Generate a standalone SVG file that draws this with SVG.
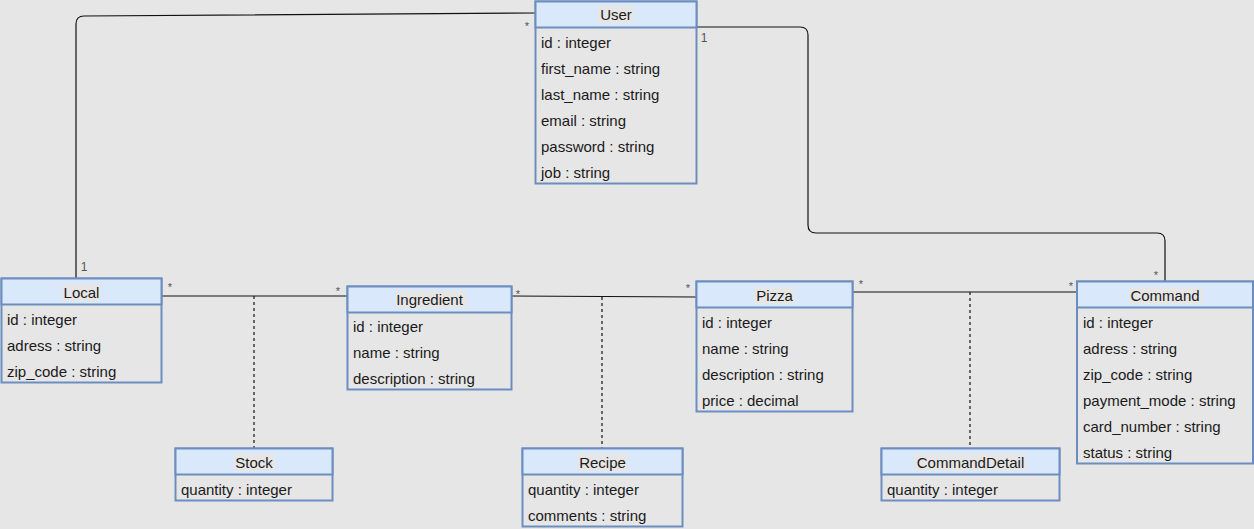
<svg xmlns="http://www.w3.org/2000/svg" width="1254" height="529" viewBox="0 0 1254 529">
<style>
.bg{fill:#e6e6e6}
.box{fill:none;stroke:#6c8ebf;stroke-width:2}
.hd{fill:#dae8fc;stroke:#6c8ebf;stroke-width:2}
.lb{fill:#e6e6e6}
.t{font-family:"Liberation Sans",Arial,sans-serif;font-size:15px;fill:#1a1a1a}
.c{text-anchor:middle}
.m{font-family:"Liberation Sans",Arial,sans-serif;font-size:11px;fill:#555;text-anchor:middle}
.ln{fill:none;stroke:#111;stroke-width:1.2}
.ds{fill:none;stroke:#111;stroke-width:1.2;stroke-dasharray:3 3}
</style>
<rect class="bg" x="0" y="0" width="1254" height="529"/>
<g id="connectors">
<path class="ln" d="M535,13 L84,16 Q76,16 76,24 L76,278"/>
<path class="ln" d="M696,27 L800,27 Q808,27 808,35 L808,225 Q808,233 816,233 L1157,233 Q1165,233 1165,241 L1165,281"/>
<path class="ln" d="M162,296 L347,296"/>
<path class="ln" d="M511,296 L696,297"/>
<path class="ln" d="M853,292 L1077,292"/>
<path class="ds" d="M254,296 V448"/>
<path class="ds" d="M602,297 V448"/>
<path class="ds" d="M970,292 V448"/>
<text class="m" x="527" y="30">*</text>
<text class="m" x="704" y="42" style="font-size:12px">1</text>
<text class="m" x="84" y="271" style="font-size:12px">1</text>
<text class="m" x="170" y="291">*</text>
<text class="m" x="338" y="295">*</text>
<text class="m" x="518" y="298">*</text>
<text class="m" x="688" y="292">*</text>
<text class="m" x="861" y="288">*</text>
<text class="m" x="1071" y="290">*</text>
<text class="m" x="1156" y="279">*</text>
</g>
<g id="user">
<rect class="box" x="535.5" y="1.5" width="161" height="182"/>
<rect class="hd" x="535.5" y="1.5" width="161" height="26"/>
<rect class="lb" x="598" y="6" width="36" height="17"/>
<text class="t c" x="616" y="20">User</text>
<text class="t" x="541" y="48">id : integer</text>
<text class="t" x="541" y="74">first_name : string</text>
<text class="t" x="541" y="100">last_name : string</text>
<text class="t" x="541" y="126">email : string</text>
<text class="t" x="541" y="152">password : string</text>
<text class="t" x="541" y="178">job : string</text>
</g>
<g id="local">
<rect class="box" x="1.5" y="278.5" width="160" height="104"/>
<rect class="hd" x="1.5" y="278.5" width="160" height="26"/>
<rect class="lb" x="62" y="284" width="39" height="17"/>
<text class="t c" x="81.5" y="298">Local</text>
<text class="t" x="7" y="325">id : integer</text>
<text class="t" x="7" y="351">adress : string</text>
<text class="t" x="7" y="377">zip_code : string</text>
</g>
<g id="ingredient">
<rect class="box" x="347.5" y="286.5" width="164" height="103"/>
<rect class="hd" x="347.5" y="286.5" width="164" height="26"/>
<rect class="lb" x="396" y="291" width="71" height="17"/>
<text class="t c" x="429.5" y="305">Ingredient</text>
<text class="t" x="353" y="332">id : integer</text>
<text class="t" x="353" y="358">name : string</text>
<text class="t" x="353" y="384">description : string</text>
</g>
<g id="pizza">
<rect class="box" x="696.5" y="281.5" width="156" height="130"/>
<rect class="hd" x="696.5" y="281.5" width="156" height="26"/>
<rect class="lb" x="755" y="287" width="40" height="17"/>
<text class="t c" x="774.5" y="301">Pizza</text>
<text class="t" x="702" y="328">id : integer</text>
<text class="t" x="702" y="354">name : string</text>
<text class="t" x="702" y="380">description : string</text>
<text class="t" x="702" y="406">price : decimal</text>
</g>
<g id="command">
<rect class="box" x="1077" y="281.5" width="176" height="182"/>
<rect class="hd" x="1077" y="281.5" width="176" height="26"/>
<rect class="lb" x="1130" y="287" width="73" height="17"/>
<text class="t c" x="1165" y="301">Command</text>
<text class="t" x="1083" y="328">id : integer</text>
<text class="t" x="1083" y="354">adress : string</text>
<text class="t" x="1083" y="380">zip_code : string</text>
<text class="t" x="1083" y="406">payment_mode : string</text>
<text class="t" x="1083" y="432">card_number : string</text>
<text class="t" x="1083" y="458">status : string</text>
</g>
<g id="stock">
<rect class="box" x="175.5" y="448.5" width="157" height="52"/>
<rect class="hd" x="175.5" y="448.5" width="157" height="26"/>
<rect class="lb" x="234" y="454" width="41" height="17"/>
<text class="t c" x="254" y="468">Stock</text>
<text class="t" x="181" y="495">quantity : integer</text>
</g>
<g id="recipe">
<rect class="box" x="522.5" y="448.5" width="160" height="78"/>
<rect class="hd" x="522.5" y="448.5" width="160" height="26"/>
<rect class="lb" x="578" y="454" width="50" height="17"/>
<text class="t c" x="602.5" y="468">Recipe</text>
<text class="t" x="528" y="495">quantity : integer</text>
<text class="t" x="528" y="521">comments : string</text>
</g>
<g id="commanddetail">
<rect class="box" x="881.5" y="448.5" width="178" height="52"/>
<rect class="hd" x="881.5" y="448.5" width="178" height="26"/>
<rect class="lb" x="915" y="454" width="111" height="17"/>
<text class="t c" x="970.5" y="468">CommandDetail</text>
<text class="t" x="887" y="495">quantity : integer</text>
</g>
</svg>
